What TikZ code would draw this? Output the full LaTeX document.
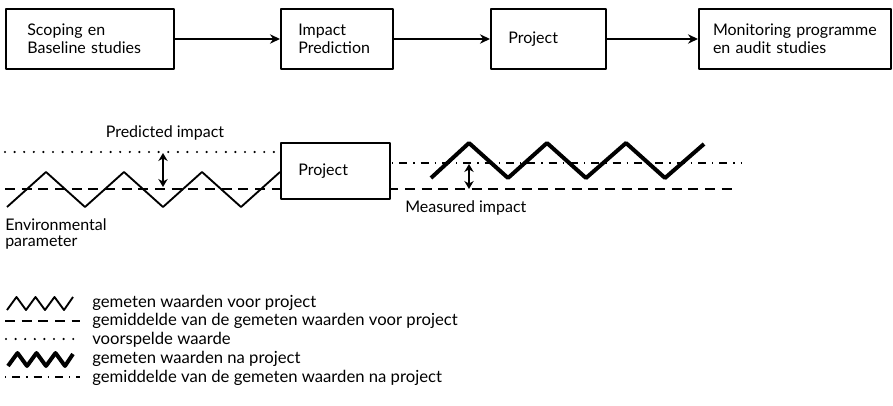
\documentclass[tikz,border=0pt]{standalone}
\usepackage{fontspec}
\setmainfont{Lato}
\usetikzlibrary{arrows.meta,positioning}
\tikzset{
  box/.style={draw,line width=1.5pt,anchor=north west,minimum height=45pt,
    text width=#1,inner xsep=13pt,align=left,fill=white},
  gem/.style={line width=1.8pt,dash pattern=on 7.5pt off 5pt},
  voor/.style={line width=1.8pt,line cap=round,dash pattern=on 0pt off 7.2pt},
  na/.style={line width=1.7pt,dash pattern=on 1pt off 4.5pt on 6pt off 4.5pt},
  zig/.style={line width=1.4pt},
  zigna/.style={line width=3pt},
  lbl/.style={anchor=west,inner sep=0pt},
  dubbel/.style={<->,line width=1.5pt,>={Stealth[length=6pt,width=7pt]}},
}
\begin{document}
\begin{tikzpicture}[x=0.75pt,y=-0.75pt,>={Stealth[length=7.5pt,width=7pt]},line join=round,font=\fontsize{12}{13.5}\selectfont]
	\useasboundingbox (0,0) rectangle (893,406);
	% bovenste rij
	\node[box=94pt,inner xsep=16pt] (scoping) at (5,8) {Scoping en\\Baseline studies};
	\node[box=58pt] (predictie) at (280,8) {Impact\\Prediction};
	\node[box=60pt] (project) at (490,8) {Project};
	\node[box=123pt,inner xsep=10.5pt] (monitoring) at (698,8) {Monitoring programme\\en audit studies};
	\draw[->,line width=1.5pt] (scoping) -- (predictie);
	\draw[->,line width=1.5pt] (predictie) -- (project);
	\draw[->,line width=1.5pt] (project) -- (monitoring);
	% middelste deel
	\draw[voor] (5,152) -- (280,152);
	\draw[gem] (5,189) -- (735,189);
	\draw[na] (392,163) -- (742,163);
	\draw[zig] (7,207) -- (46,172) -- (85,207) -- (124,172) -- (163,207) -- (202,172) -- (241,207) -- (280,172);
	\node[box=56pt,minimum height=42pt] (mproject) at (280,142) {Project};
	\draw[zigna] (431,178) -- (469,143) -- (508,178) -- (547,143) -- (586,178) -- (626,143) -- (665,178) -- (704,144);
	\coordinate (pbo) at (163,153); \coordinate (pon) at (163,187);
	\coordinate (mbo) at (469,164); \coordinate (mon) at (469,189);
	\draw[dubbel] (pbo) -- (pon);
	\draw[dubbel] (mbo) -- (mon);
	\node (predicted) at (165,133) {Predicted impact};
	\node[lbl] (measured) at (405,208) {Measured impact};
	\node[lbl,align=left,font=\fontsize{12}{11.5}\selectfont] (envpar) at (5,234) {Environmental\\parameter};
	% legenda
	\draw[zig] (7,310) -- (16.5,297) -- (26,310) -- (35.5,297) -- (45,310) -- (54.5,297) -- (64,310) -- (73,297);
	\draw[gem] (5,321) -- (80,321);
	\draw[voor] (6,339) -- (80,339);
	\draw[zigna] (8,366) -- (17.5,353) -- (27,366) -- (36.5,353) -- (46,366) -- (55.5,353) -- (65,366) -- (73,354);
	\draw[na] (5,377) -- (80,377);
	\begin{scope}[font=\fontsize{12.5}{14}\selectfont]
	\node[lbl] (l1) at (92,303) {gemeten waarden voor project};
	\node[lbl] (l2) at (92,321) {gemiddelde van de gemeten waarden voor project};
	\node[lbl] (l3) at (92,340) {voorspelde waarde};
	\node[lbl] (l4) at (92,359) {gemeten waarden na project};
	\node[lbl] (l5) at (92,378) {gemiddelde van de gemeten waarden na project};
	\end{scope}
\end{tikzpicture}
\end{document}
